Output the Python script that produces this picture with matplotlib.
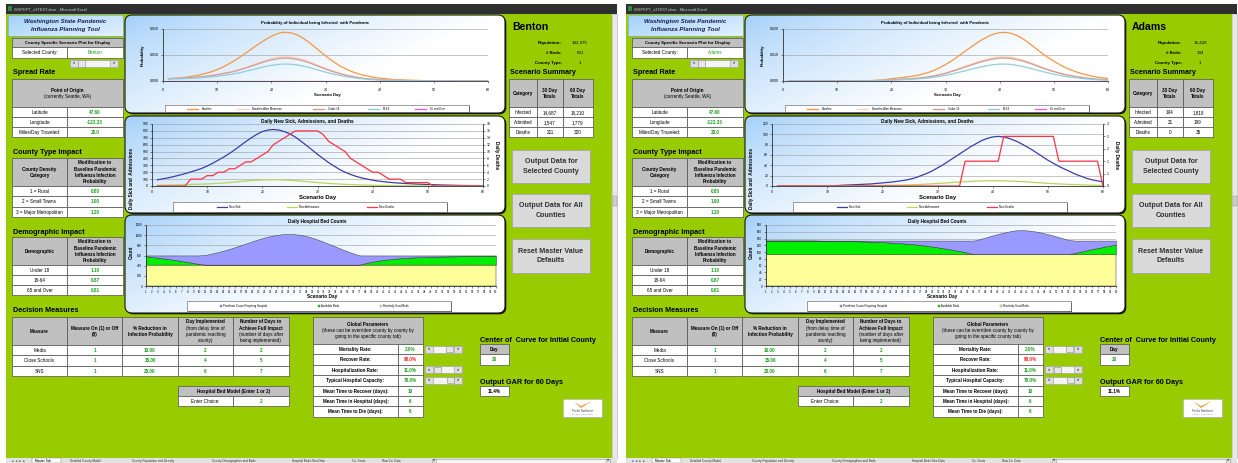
import numpy as np
import matplotlib
matplotlib.use('Agg')
import matplotlib.pyplot as plt
from matplotlib.patches import Rectangle, FancyBboxPatch, Polygon

plt.rcParams['font.family'] = ['Liberation Sans', 'DejaVu Sans']

W, H = 1238, 463
days = np.arange(1, 61)

# ---------------- Benton ----------------
benton_info = ['142,475', '601', '1']
benton_summary = [['14,687', '16,210'], ['1,547', '1,779'], ['211', '320']]
benton_gar = '11.4%'

# probability of infection, units of 1e-4
benton_baseline = [9, 10, 12, 14, 17, 20, 25, 30, 36, 44,
                   53, 64, 76, 89, 103, 118, 133, 147, 160, 172,
                   181, 187, 187, 183, 175, 163, 148, 131, 114, 97,
                   81, 67, 54, 44, 35, 28, 22, 18, 14, 11,
                   9, 7, 5.5, 4.5, 3.5, 2.8, 2.2, 1.7, 1.3, 1.0,
                   0.8, 0.6, 0.5, 0.4, 0.3, 0.2, 0.2, 0.1, 0.1, 0.1]
benton_after = [9, 10, 11, 12, 13, 15, 17, 19, 22, 25,
                29, 33, 38, 44, 51, 58, 66, 73, 80, 86,
                90, 93, 93, 91, 87, 81, 74, 66, 57, 49,
                41, 34, 28, 22, 18, 14, 11, 9, 7, 5.5,
                4.5, 3.5, 2.8, 2.2, 1.7, 1.4, 1.1, 0.9, 0.7, 0.5,
                0.4, 0.3, 0.3, 0.2, 0.2, 0.1, 0.1, 0.1, 0.1, 0.1]
benton_u18 = [9, 10, 11, 12, 13, 15, 16, 18, 21, 24,
              28, 32, 36, 42, 48, 55, 62, 69, 76, 81,
              85, 88, 88, 86, 82, 77, 70, 62, 54, 46,
              39, 32, 26, 21, 17, 13, 10, 8, 6.5, 5,
              4, 3.2, 2.6, 2, 1.6, 1.3, 1, 0.8, 0.6, 0.5,
              0.4, 0.3, 0.2, 0.2, 0.1, 0.1, 0.1, 0.1, 0.1, 0.1]
benton_adult = [7, 8, 8, 9, 10, 11, 12, 14, 16, 18,
                21, 24, 27, 31, 36, 41, 46, 51, 56, 60,
                63, 65, 65, 64, 61, 57, 52, 46, 40, 34,
                29, 24, 20, 16, 13, 10, 8, 6, 5, 4,
                3, 2.5, 2, 1.6, 1.2, 1, 0.8, 0.6, 0.5, 0.4,
                0.3, 0.2, 0.2, 0.1, 0.1, 0.1, 0.1, 0.1, 0.1, 0.1]
benton_senior = [0.0] * 60

benton_sick = [90, 105, 120, 138, 158, 180, 203, 228, 255, 290,
               330, 375, 420, 470, 525, 585, 645, 700, 750, 790,
               812, 820, 812, 790, 755, 710, 650, 590, 525, 460,
               400, 340, 290, 240, 200, 168, 140, 118, 100, 84,
               72, 62, 54, 47, 41, 36, 32, 28, 25, 22,
               19, 16, 14, 12, 10, 8, 7, 6, 5, 4]
benton_admit = [10, 11, 13, 15, 17, 19, 22, 24, 27, 30,
                34, 38, 43, 50, 57, 65, 72, 78, 83, 87,
                90, 91, 90, 87, 82, 77, 71, 64, 57, 50,
                44, 38, 33, 28, 24, 21, 18, 15, 13, 11,
                9, 8, 7, 6, 5, 4, 3.5, 3, 2.5, 2,
                2, 1.5, 1, 1, 1, 0.5, 0.5, 0.5, 0.5, 0.5]
benton_deaths = [0, 0, 0, 0, 0, 0, 2, 2, 2, 3,
                 3, 4, 4, 5, 5, 6, 7, 7, 8, 9,
                 10, 12, 13, 14, 15, 16, 16, 16, 16, 16,
                 15, 13, 12, 11, 10, 8, 7, 6, 5, 4,
                 4, 3, 2, 2, 2, 1, 1, 1, 1, 1,
                 0, 0, 0, 0, 0, 0, 0, 0, 0, 0]

benton_pandemic = [15, 30, 45, 60, 75, 92, 110, 128, 148, 168,
                   190, 215, 243, 273, 307, 343, 382, 422, 462, 500,
                   533, 562, 584, 598, 603, 599, 586, 563, 530, 490,
                   446, 400, 352, 305, 260, 218, 182, 152, 127, 106,
                   89, 75, 63, 54, 46, 40, 35, 31, 27, 24,
                   22, 20, 18, 16, 15, 14, 13, 12, 11, 10]
benton_available = [166, 151, 136, 121, 106, 89, 71, 53, 33, 13,
                    0, 0, 0, 0, 0, 0, 0, 0, 0, 0,
                    0, 0, 0, 0, 0, 0, 0, 0, 0, 0,
                    0, 0, 0, 0, 0, 0, 0, 29, 54, 75,
                    92, 106, 118, 127, 135, 141, 146, 150, 154, 157,
                    159, 161, 163, 165, 166, 167, 168, 169, 170, 171]
benton_routine = [420] * 60

# ---------------- Adams ----------------
adams_info = ['16,428', '134', '1']
adams_summary = [['194', '1,818'], ['21', '199'], ['0', '35']]
adams_gar = '11.1%'

adams_baseline = [0, 0, 0, 0, 0, 0, 0, 0, 0.1, 0.1,
                  0.2, 0.3, 0.5, 0.7, 1, 1.5, 2.5, 4, 6, 9,
                  11, 13, 16, 19, 23, 28, 34, 42, 52, 63,
                  76, 90, 105, 120, 135, 149, 162, 173, 181, 186,
                  187, 184, 177, 166, 152, 136, 120, 104, 89, 76,
                  64, 53, 44, 36, 29, 24, 19, 15, 12, 10]
adams_after = [0, 0, 0, 0, 0, 0, 0, 0, 0, 0.1,
               0.1, 0.2, 0.3, 0.4, 0.6, 0.9, 1.4, 2.2, 3.4, 5,
               6, 7, 8.5, 10, 12, 14, 17, 21, 26, 31,
               38, 45, 52, 60, 67, 74, 80, 86, 90, 93,
               93, 92, 88, 83, 76, 68, 60, 52, 44, 38,
               32, 26, 22, 18, 15, 12, 9.5, 7.5, 6, 5]
adams_u18 = [0, 0, 0, 0, 0, 0, 0, 0, 0, 0.1,
             0.1, 0.2, 0.3, 0.4, 0.5, 0.8, 1.3, 2, 3.2, 4.7,
             5.7, 6.7, 8, 9.5, 11, 13, 16, 20, 24, 29,
             36, 42, 49, 56, 63, 70, 76, 81, 85, 88,
             88, 87, 83, 78, 72, 65, 57, 49, 42, 36,
             30, 25, 21, 17, 14, 11, 9, 7, 5.5, 4.5]
adams_adult = [0, 0, 0, 0, 0, 0, 0, 0, 0, 0,
               0.1, 0.1, 0.2, 0.3, 0.4, 0.6, 0.9, 1.5, 2.3, 3.4,
               4.2, 5, 6, 7, 8.5, 10, 12, 15, 18, 22,
               26, 31, 36, 41, 47, 52, 56, 60, 63, 65,
               65, 64, 61, 57, 52, 47, 41, 36, 31, 26,
               22, 18, 15, 12.5, 10, 8, 6.5, 5, 4, 3.3]
adams_senior = [0.0] * 60

adams_sick = [0, 0, 0, 0, 0, 0, 0, 0, 0, 0,
              0.5, 1, 1.5, 2, 2.5, 3, 3.5, 4, 5, 6,
              7, 8, 9.5, 11, 13, 16, 20, 24, 29, 35,
              41, 48, 55, 62, 69, 76, 82, 88, 92, 95,
              96, 95, 92, 88, 83, 77, 71, 64, 57, 50,
              44, 38, 33, 28, 23, 19, 15, 12, 10, 8]
adams_admit = [0, 0, 0, 0, 0, 0, 0, 0, 0, 0,
               0, 0, 0.2, 0.3, 0.4, 0.5, 0.6, 0.7, 0.8, 1.0,
               1.2, 1.4, 1.6, 1.9, 2.2, 2.6, 3.0, 3.6, 4.2, 4.9,
               5.6, 6.3, 7.0, 7.7, 8.3, 8.9, 9.4, 9.8, 10.1, 10.2,
               10.2, 10.0, 9.6, 9.2, 8.6, 8.0, 7.3, 6.6, 5.9, 5.2,
               4.6, 4.0, 3.5, 3.0, 2.6, 2.2, 1.9, 1.6, 1.3, 1.1]
adams_deaths = [0, 0, 0, 0, 0, 0, 0, 0, 0, 0,
                0, 0, 0, 0, 0, 0, 0, 0, 0, 0,
                0, 0, 0, 0, 0, 0, 0, 0, 0, 0,
                0, 0, 0, 0, 1, 1, 1, 1, 1, 1,
                1, 2, 2, 2, 2, 2, 2, 2, 2, 2,
                2, 1, 1, 1, 1, 1, 1, 1, 1, 0]

adams_pandemic = [0, 0, 0, 0, 0, 0, 0, 0, 0, 0.3,
                  0.5, 0.7, 1, 1.3, 1.6, 2, 2.4, 2.9, 3.5, 4.2,
                  5, 6, 7, 8, 9.5, 11, 13, 15, 17.5, 20,
                  23, 26, 29, 32, 36, 40, 44, 49, 54, 59,
                  63, 67, 70, 71, 70, 68, 65, 61, 57, 52,
                  47, 42, 37, 33, 29, 25, 22, 18, 15, 12]
adams_available = [40, 40, 40, 40, 40, 40, 40, 40, 40, 39.7,
                   39.5, 39.3, 39, 38.7, 38.4, 38, 37.6, 37.1, 36.5, 35.8,
                   35, 34, 33, 32, 30.5, 29, 27, 25, 22.5, 20,
                   17, 14, 11, 8, 4, 0, 0, 0, 0, 0,
                   0, 0, 0, 0, 0, 0, 0, 0, 0, 0,
                   0, 0, 3, 7, 11, 15, 18, 22, 25, 28]
adams_routine = [94] * 60

# ---------------- shared sheet values ----------------
origin_rows = [('Latitude', '47.60'), ('Longitude', '-122.33'), ('Miles/Day Traveled:', '25.0')]
county_type_rows = [('1 = Rural', '0.80'), ('2 = Small Towns', '1.00'), ('3 = Major Metropolitan', '1.20')]
demographic_rows = [('Under 18', '1.10'), ('18-64', '0.87'), ('65 and Over', '0.81')]
measure_rows = [('Media', '1', '10.00', '2', '2'),
                ('Close Schools', '1', '15.00', '4', '5'),
                ('SNS', '1', '25.00', '6', '7')]
global_rows = [('Mortality Rate:', '2.0%'), ('Recover Rate:', '98.0%'),
               ('Hospitalization Rate:', '11.0%'), ('Typical Hospital Capacity:', '70.0%'),
               ('Mean Time to Recover (days):', '10'), ('Mean Time in Hospital (days):', '6'),
               ('Mean Time to Die (days):', '6')]
sheet_tabs = ['Master Tab', 'Detailed County Model', 'County Population and Density',
              'County Demographics and Beds', 'Hospital Beds Raw Data', 'Co. Seats', 'Raw Co. Data']

prob_names = ['Baseline', 'Baseline After Measures', 'Under 18', '18-64', '65 and Over']
prob_colors = ['#f79646', '#fbd3b5', '#d49a98', '#92cfd8', '#e35de3']
sick_names = ['New Sick', 'New Admissions', 'New Deaths']
sick_colors = ['#3d3daa', '#b6d65c', '#ff3344']
bed_names = ['Pandemic Cases Requiring Hospital', 'Available Beds', 'Routinely Used Beds']
bed_colors = ['#9999ff', '#00ee00', '#ffff99']

BG = '#99cc00'
GRAY = '#c0c0c0'
VAL = '#16a016'
EDGE = '#505050'

fig = plt.figure(figsize=(W / 100, H / 100), dpi=100)
fig.patch.set_facecolor('white')
base = fig.add_axes([0, 0, 1, 1])
base.axis('off')


def px_axes(x0, y0, x1, y1):
    return fig.add_axes([x0 / W, 1 - y1 / H, (x1 - x0) / W, (y1 - y0) / H])


def rect(x0, y0, x1, y1, fc, ec='none', lw=0.5, z=1):
    base.add_patch(Rectangle((x0, y0), x1 - x0, y1 - y0, fc=fc, ec=ec, lw=lw, zorder=z))


def txt(x, y, s, size=3.3, color='black', bold=False, ha='center', va='center', **kw):
    base.text(x, y, s, fontsize=size, color=color, fontweight='bold' if bold else 'normal',
              ha=ha, va=va, zorder=6, **kw)


def cell(x0, y0, x1, y1, s='', fc='white', color='black', bold=False, size=3.3):
    rect(x0, y0, x1, y1, fc, ec=EDGE, lw=0.5, z=2)
    if s != '':
        txt((x0 + x1) / 2, (y0 + y1) / 2 + 0.3, s, size=size, color=color, bold=bold)


def header(x0, y0, x1, y1, lines, size=3.3, lh=6.3):
    rect(x0, y0, x1, y1, GRAY, ec=EDGE, lw=0.5, z=2)
    n = len(lines)
    yc = (y0 + y1) / 2 + 0.3
    for i, (s, b) in enumerate(lines):
        txt((x0 + x1) / 2, yc + (i - (n - 1) / 2) * lh, s, size=size, bold=b)


def hscroll(x0, y0, x1, y1, thumb=None):
    rect(x0, y0, x1, y1, '#f4f4f4', ec='#9a9a9a', lw=0.4, z=2)
    bw = (y1 - y0) * 1.1
    for a, b, s in [(x0, x0 + bw, '<'), (x1 - bw, x1, '>')]:
        rect(a, y0, b, y1, '#dedede', ec='#9a9a9a', lw=0.4, z=3)
        txt((a + b) / 2, (y0 + y1) / 2, s, size=2.6, bold=True)
    if thumb is not None:
        rect(thumb, y0 + 0.4, thumb + bw * 0.9, y1 - 0.4, '#e6e6e6', ec='#8c8c8c', lw=0.4, z=3)


def button(x0, y0, x1, y1, lines):
    rect(x0 + 1.2, y0 + 1.2, x1 + 1.2, y1 + 1.2, '#6f6f6f', z=2)
    rect(x0, y0, x1, y1, '#dadada', ec='#a8a8a8', lw=0.6, z=3)
    n = len(lines)
    for i, s in enumerate(lines):
        txt((x0 + x1) / 2, (y0 + y1) / 2 + (i - (n - 1) / 2) * 9.5, s, size=5.1, color='#303030', bold=True)


def chart_frame(x0, y0, x1, y1):
    style = 'round,pad=0,rounding_size=7'
    base.add_patch(FancyBboxPatch((x0 + 1.3, y0 + 1.3), x1 - x0, y1 - y0, boxstyle=style,
                                  fc='#151515', ec='none', zorder=2))
    frame = FancyBboxPatch((x0, y0), x1 - x0, y1 - y0, boxstyle=style, fc='white', ec='none', zorder=2.5)
    base.add_patch(frame)
    w, h = int(x1 - x0), int(y1 - y0)
    u = np.linspace(0, 1, w)[None, :]
    v = np.linspace(0, 1, h)[:, None]
    t = np.clip(1.0 * u + 0.6 * v, 0, 1) ** 0.75
    blue = np.array([0.63, 0.81, 0.98])
    img = blue + (1 - blue) * t[..., None]
    im = base.imshow(img, extent=(x0, x1, y1, y0), zorder=2.6, aspect='auto', interpolation='bilinear')
    im.set_clip_path(frame)
    base.add_patch(FancyBboxPatch((x0, y0), x1 - x0, y1 - y0, boxstyle=style, fc='none',
                                  ec='#151515', lw=0.8, zorder=2.7))


def legend_box(x0, y0, x1, y1):
    rect(x0 + 1.2, y0 + 1.2, x1 + 1.2, y1 + 1.2, '#202020', z=4)
    rect(x0, y0, x1, y1, 'white', ec='#555555', lw=0.4, z=4.5)


def style_axes(ax, size=2.6, grid=True):
    ax.set_facecolor('none')
    for side in ['top', 'right']:
        ax.spines[side].set_visible(False)
    for side in ['left', 'bottom']:
        ax.spines[side].set_color('#303030')
        ax.spines[side].set_linewidth(0.6)
    ax.tick_params(labelsize=size, length=1.6, width=0.4, pad=1.2, color='#303030')
    if grid:
        ax.yaxis.grid(True, color='#9a9a9a', lw=0.4)
        ax.set_axisbelow(True)


def draw_panel(ox, county, info, summary, gar, prob, sick, beds, sick_axis, death_axis, bed_axis):
    # window chrome
    rect(ox + 6, 4, ox + 617, 14, '#2f2f2f', z=1)
    rect(ox + 7.5, 6, ox + 12, 11, '#2e8b3a', z=1.5)
    txt(ox + 14, 9, 'WSPEPT_v3TEST.xlsm - Microsoft Excel', size=2.9, color='#c8c8c8', ha='left')
    rect(ox + 6, 14, ox + 612, 458, BG, z=1)
    rect(ox + 612, 14, ox + 617, 458, '#e9e9e9', ec='#b0b0b0', lw=0.4, z=1)
    rect(ox + 612.5, 196, ox + 616.5, 206, '#d0d0d0', ec='#909090', lw=0.3, z=1.5)
    rect(ox + 6, 458, ox + 617, 463, '#e2e2e2', z=1)
    txt(ox + 18, 460.8, '\u25c4 \u25c4 \u25ba \u25ba', size=2.2, color='#404040')
    tab_x = [35, 70, 132, 212, 292, 352, 382]
    for i, (tx, name) in enumerate(zip(tab_x, sheet_tabs)):
        if i == 0:
            rect(ox + tx - 3, 458, ox + tx + 26, 463, 'white', ec='#808080', lw=0.3, z=1.5)
        txt(ox + tx, 460.8, name, size=2.2, color='#303030', ha='left', bold=(i == 0))
    hscroll(ox + 432, 458.5, ox + 610, 462.5)

    # title block
    tb = Rectangle((ox + 8, 15), 115, 21, fc='none', ec='#7aa7d6', lw=0.5, zorder=2.5)
    base.add_patch(tb)
    g = np.linspace(0, 1, 60)[None, :] * 0.6 + np.linspace(0, 1, 20)[:, None] * 0.4
    blue = np.array([0.64, 0.82, 0.98])
    base.imshow(blue + (1 - blue) * (g[..., None] * 0.7), extent=(ox + 8, ox + 123, 36, 15),
                zorder=2.2, aspect='auto')
    txt(ox + 65.5, 22, 'Washington State Pandemic', size=4.4, color='#1a1a50', bold=True, style='italic')
    txt(ox + 65.5, 29, 'Influenza Planning Tool', size=4.4, color='#1a1a50', bold=True, style='italic')

    cell(ox + 12, 38, ox + 123, 47, 'County Specific Scenario Plot for Display', fc=GRAY, bold=True, size=3.2)
    cell(ox + 12, 47, ox + 67, 58, 'Selected County:')
    cell(ox + 67, 47, ox + 123, 58, county, color=VAL)
    hscroll(ox + 70, 60, ox + 118, 67, thumb=ox + 78)

    # spread rate
    txt(ox + 13, 73, 'Spread Rate', size=5.2, bold=True, ha='left')
    header(ox + 12, 79, ox + 123, 107, [('Point of Origin', True), ('(currently Seattle, WA)', False)])
    for i, (lab, val) in enumerate(origin_rows):
        y = 107 + i * 10
        cell(ox + 12, y, ox + 67, y + 10, lab)
        cell(ox + 67, y, ox + 123, y + 10, val, color=VAL, bold=True)

    # county type impact
    txt(ox + 13, 153, 'County Type Impact', size=5.2, bold=True, ha='left')
    mod_lines = [('Modification to', True), ('Baseline Pandemic', True),
                 ('Influenza Infection', True), ('Probability', True)]
    header(ox + 12, 158, ox + 67, 186, [('County Density', True), ('Category', True)])
    header(ox + 67, 158, ox + 123, 186, mod_lines)
    for i, (lab, val) in enumerate(county_type_rows):
        y = 186 + i * 10.35
        cell(ox + 12, y, ox + 67, y + 10.35, lab)
        cell(ox + 67, y, ox + 123, y + 10.35, val, color=VAL, bold=True)

    # demographic impact
    txt(ox + 13, 232, 'Demographic Impact', size=5.2, bold=True, ha='left')
    header(ox + 12, 237, ox + 67, 265, [('Demographic', True)])
    header(ox + 67, 237, ox + 123, 265, mod_lines)
    for i, (lab, val) in enumerate(demographic_rows):
        y = 265 + i * 10
        cell(ox + 12, y, ox + 67, y + 10, lab)
        cell(ox + 67, y, ox + 123, y + 10, val, color=VAL, bold=True)

    # decision measures
    txt(ox + 13, 311, 'Decision Measures', size=5.2, bold=True, ha='left')
    cols = [12, 67, 122, 178, 233, 289]
    heads = [[('Measure', True)],
             [('Measure On (1) or Off', True), ('(0)', True)],
             [('% Reduction in', True), ('Infection Probability', True)],
             [('Day Implemented', True), ('(from delay time of', False), ('pandemic reaching', False), ('county)', False)],
             [('Number of Days to', True), ('Achieve Full Impact', True), ('(number of days after', False),
              ('being implemented)', False)]]
    for c, lines in enumerate(heads):
        header(ox + cols[c], 317, ox + cols[c + 1], 345, lines)
    for r, row in enumerate(measure_rows):
        y = 345 + r * 10.35
        for c, val in enumerate(row):
            cell(ox + cols[c], y, ox + cols[c + 1], y + 10.35, val,
                 color='black' if c == 0 else VAL, bold=c > 0)

    header(ox + 178, 386, ox + 289, 396, [('Hospital Bed Model (Enter 1 or 2)', True)])
    cell(ox + 178, 396, ox + 233, 406, 'Enter Choice:')
    cell(ox + 233, 396, ox + 289, 406, '2', color=VAL, bold=True)

    # global parameters
    header(ox + 313, 317, ox + 423, 344, [('Global Parameters', True),
                                          ('(these can be overriden county by county by', False),
                                          ('going to the specific county tab)', False)], lh=6.0)
    for r, (lab, val) in enumerate(global_rows):
        y = 344 + r * 10.4
        cell(ox + 313, y, ox + 398, y + 10.4, lab, bold=True)
        cell(ox + 398, y, ox + 423, y + 10.4, val, color='#ff2020' if r == 1 else VAL, bold=True)
    for r, th in [(0, 446), (2, 434), (3, 447)]:
        y = 344 + r * 10.4
        hscroll(ox + 425, y + 1.5, ox + 462, y + 8.5, thumb=ox + th)

    txt(ox + 480, 340, 'Center of  Curve for Initial County', size=5.2, bold=True, ha='left')
    cell(ox + 480, 344, ox + 509, 354, 'Day', fc=GRAY, bold=True)
    cell(ox + 480, 354, ox + 509, 365, '20', color=VAL, bold=True)
    txt(ox + 480, 382, 'Output GAR for 60 Days', size=5.2, bold=True, ha='left')
    cell(ox + 480, 386, ox + 509, 396, gar, bold=True)

    # logo
    rect(ox + 564, 400, ox + 603, 418, '#7a7a7a', z=2)
    rect(ox + 563, 399, ox + 602, 417, 'white', ec='#b0b0b0', lw=0.4, z=2.5)
    base.add_patch(Polygon([[ox + 574, 402], [ox + 581, 408], [ox + 592, 401], [ox + 581, 406]],
                           closed=True, fc='#f0a040', ec='none', zorder=3))
    txt(ox + 582.5, 411, 'Pacific Northwest', size=2.0, color='#404040')
    txt(ox + 582.5, 414, 'NATIONAL LABORATORY', size=1.3, color='#808080')

    # county summary column
    txt(ox + 512, 27, county, size=7.6, bold=True, ha='left')
    for i, (lab, val) in enumerate(zip(['Population:', '# Beds:', 'County Type:'], info)):
        txt(ox + 562, 43 + i * 10, lab, size=3.2, bold=True, ha='right')
        txt(ox + 580, 43 + i * 10, val, size=3.2)
    txt(ox + 510, 73, 'Scenario Summary', size=5.2, bold=True, ha='left')
    sc = [509, 537, 563, 593]
    header(ox + sc[0], 79, ox + sc[1], 107, [('Category', True)])
    header(ox + sc[1], 79, ox + sc[2], 107, [('30 Day', True), ('Totals', True)])
    header(ox + sc[2], 79, ox + sc[3], 107, [('60 Day', True), ('Totals', True)])
    for r, (lab, vals) in enumerate(zip(['Infected', 'Admitted', 'Deaths'], summary)):
        y = 107 + r * 10
        cell(ox + sc[0], y, ox + sc[1], y + 10, lab)
        cell(ox + sc[1], y, ox + sc[2], y + 10, vals[0])
        cell(ox + sc[2], y, ox + sc[3], y + 10, vals[1])
    button(ox + 512, 150, ox + 590, 183, ['Output Data for', 'Selected County'])
    button(ox + 512, 194, ox + 590, 227, ['Output Data for All', 'Counties'])
    button(ox + 512, 239, ox + 590, 273, ['Reset Master Value', 'Defaults'])

    # chart 1: probability of infection
    chart_frame(ox + 125, 15, ox + 505, 113)
    ax = px_axes(ox + 163, 29, ox + 488, 81)
    for vals, col in zip(prob, prob_colors):
        ax.plot(days, np.array(vals) * 1e-4, color=col, lw=0.9)
    ax.set_xlim(0, 60)
    ax.set_ylim(0, 0.02)
    ax.set_xticks(range(0, 61, 10))
    ax.set_yticks([0, 0.01, 0.02])
    ax.set_yticklabels(['0.000', '0.010', '0.020'])
    style_axes(ax, size=2.6)
    ax.tick_params(axis='x', pad=3.5)
    txt(ox + 315, 23, 'Probability of Individual being Infected  with Pandemic', size=3.1, bold=True)
    txt(ox + 143, 55, 'Probability', size=3.1, bold=True, rotation=90)
    txt(ox + 327, 95, 'Scenario Day', size=3.1, bold=True)
    legend_box(ox + 165, 105, ox + 469, 112)
    for (xa, name), col in zip([(187, prob_names[0]), (237, prob_names[1]), (313, prob_names[2]),
                                (368, prob_names[3]), (415, prob_names[4])], prob_colors):
        base.plot([ox + xa, ox + xa + 11], [108.5, 108.5], color=col, lw=1.0, zorder=5)
        txt(ox + xa + 15, 108.7, name, size=2.0, ha='left')

    # chart 2: daily new sick, admissions and deaths
    chart_frame(ox + 125, 116, ox + 505, 213)
    ax = px_axes(ox + 152, 124, ox + 483, 186)
    ax.plot(days, sick[0], color=sick_colors[0], lw=0.9)
    ax.plot(days, sick[1], color=sick_colors[1], lw=0.9)
    ax.set_xlim(0, 60)
    ax.set_ylim(0, sick_axis[-1])
    ax.set_yticks(sick_axis)
    ax.set_xticks(range(0, 61, 10))
    style_axes(ax, size=2.4)
    ax2 = ax.twinx()
    ax2.plot(days, sick[2], color=sick_colors[2], lw=0.9)
    ax2.set_ylim(0, death_axis[0][-1])
    ax2.set_yticks(death_axis[0])
    ax2.set_yticklabels(death_axis[1])
    ax2.set_facecolor('none')
    for side in ['top', 'left', 'bottom']:
        ax2.spines[side].set_visible(False)
    ax2.spines['right'].set_color('#303030')
    ax2.spines['right'].set_linewidth(0.6)
    ax2.tick_params(labelsize=2.4, length=1.6, width=0.4, pad=1.2, color='#303030')
    txt(ox + 307, 121, 'Daily New Sick, Admissions, and Deaths', size=3.4, bold=True)
    txt(ox + 131, 178, 'Daily Sick and  Admissions', size=3.3, bold=True, rotation=90)
    txt(ox + 497, 155, 'Daily Deaths', size=3.3, bold=True, rotation=270)
    txt(ox + 318, 197, 'Scenario Day', size=4.2, bold=True)
    legend_box(ox + 173, 202, ox + 447, 212)
    for (xa, name), col in zip([(217, sick_names[0]), (287, sick_names[1]), (367, sick_names[2])], sick_colors):
        base.plot([ox + xa, ox + xa + 10], [207, 207], color=col, lw=0.9, zorder=5)
        txt(ox + xa + 12, 207.2, name, size=2.0, ha='left')

    # chart 3: hospital beds
    chart_frame(ox + 125, 215, ox + 505, 313)
    ax = px_axes(ox + 146, 225, ox + 496, 286)
    ax.stackplot(days, beds[2], beds[1], beds[0], colors=[bed_colors[2], bed_colors[1], bed_colors[0]],
                 edgecolor='#3a3a3a', lw=0.35)
    ax.set_xlim(1, 60)
    ax.set_ylim(0, bed_axis[-1])
    ax.set_yticks(bed_axis)
    ax.set_xticks(days)
    style_axes(ax, size=2.2)
    ax.tick_params(axis='x', labelsize=2.1, pad=1.5)
    txt(ox + 317, 222, 'Daily Hospital Bed Counts', size=3.3, bold=True)
    txt(ox + 131, 252, 'Count', size=3.3, bold=True, rotation=90)
    txt(ox + 322, 296.5, 'Scenario Day', size=3.4, bold=True)
    legend_box(ox + 187, 301, ox + 451, 311)
    for (xa, name), col in zip([(220, bed_names[0]), (318, bed_names[1]), (380, bed_names[2])], bed_colors):
        rect(ox + xa, 304.8, ox + xa + 2.4, 307.2, col, ec='#404040', lw=0.2, z=5)
        txt(ox + xa + 3, 306.2, name, size=2.0, ha='left')


draw_panel(0, 'Benton', benton_info, benton_summary, benton_gar,
           [benton_baseline, benton_after, benton_u18, benton_adult, benton_senior],
           [benton_sick, benton_admit, benton_deaths],
           [benton_pandemic, benton_available, benton_routine],
           list(range(0, 901, 100)), (list(range(0, 19, 2)), [str(v) for v in range(0, 19, 2)]),
           list(range(0, 1201, 200)))
draw_panel(620, 'Adams', adams_info, adams_summary, adams_gar,
           [adams_baseline, adams_after, adams_u18, adams_adult, adams_senior],
           [adams_sick, adams_admit, adams_deaths],
           [adams_pandemic, adams_available, adams_routine],
           list(range(0, 121, 20)), ([0, 0.5, 1, 1.5, 2, 2.5], ['0', '1', '1', '2', '2', '3']),
           list(range(0, 181, 20)))

base.set_xlim(0, W)
base.set_ylim(H, 0)
fig.savefig('out.png', dpi=100, facecolor='white')
